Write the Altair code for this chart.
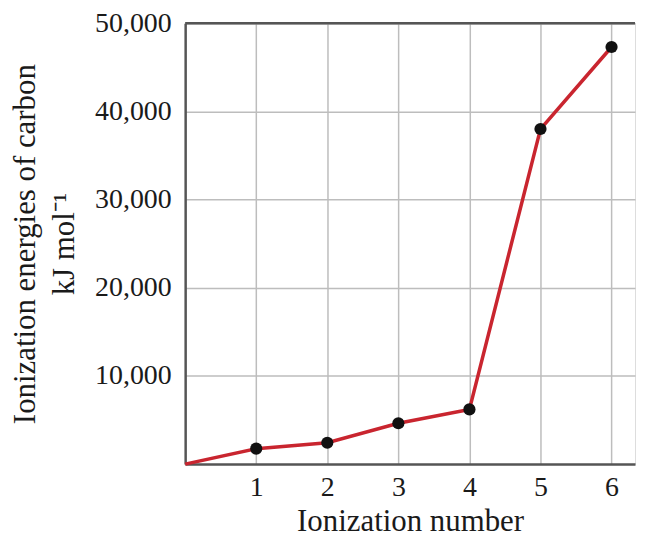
import altair as alt
import pandas as pd

ionization_number = [0, 1, 2, 3, 4, 5, 6]
energy_kj_mol = [0, 1750, 2420, 4630, 6200, 38000, 47300]
y_ticks = [10000, 20000, 30000, 40000, 50000]
x_ticks = [1, 2, 3, 4, 5, 6]

df = pd.DataFrame({"n": ionization_number, "e": energy_kj_mol})
pts = df[df["n"] > 0]

FONT = "Liberation Serif"
X_MAX = 6.33

xs = alt.Scale(domain=[0, X_MAX], nice=False, zero=False)
ys = alt.Scale(domain=[0, 50000], nice=False)

x_axis = alt.Axis(
    values=x_ticks, format="d", title="Ionization number", ticks=False, labelPadding=10,
    labelFontSize=28, titleFontSize=31, labelFont=FONT, titleFont=FONT,
    labelColor="#1a1a1a", titleColor="#1a1a1a", titleFontWeight="normal",
    titlePadding=5, gridColor="#bdbdbd", gridWidth=1.5,
    domainColor="#555555", domainWidth=2.5, labelFlush=False,
)
y_axis = alt.Axis(
    values=y_ticks, format=",.0f", title=["Ionization energies of carbon", "kJ mol⁻¹"],
    ticks=False, labelPadding=14, labelFontSize=28, titleFontSize=31,
    labelFont=FONT, titleFont=FONT, labelColor="#1a1a1a", titleColor="#1a1a1a",
    titleFontWeight="normal", titleLineHeight=39, titlePadding=14,
    gridColor="#bdbdbd", gridWidth=1.5, domainColor="#555555", domainWidth=2.5,
    labelFlush=False,
)

line = alt.Chart(df).mark_line(color="#c9252f", strokeWidth=3.5).encode(
    x=alt.X("n:Q", scale=xs, axis=x_axis),
    y=alt.Y("e:Q", scale=ys, axis=y_axis),
)

dots = alt.Chart(pts).mark_point(filled=True, color="#111111", size=150, opacity=1).encode(
    x=alt.X("n:Q", scale=xs, axis=x_axis),
    y=alt.Y("e:Q", scale=ys, axis=y_axis),
)

top_border = alt.Chart(pd.DataFrame({"n": [0], "b": [X_MAX], "e": [50000]})).mark_rule(
    color="#555555", strokeWidth=2.5
).encode(
    x=alt.X("n:Q", scale=xs, axis=x_axis),
    x2="b:Q",
    y=alt.Y("e:Q", scale=ys, axis=y_axis),
)

chart = (
    alt.layer(line, top_border, dots)
    .properties(width=452, height=443, padding={"left": 2, "top": 0, "right": 0, "bottom": 0})
    .configure_view(strokeWidth=0)
    .configure(background="white")
)

chart.save("out.html", embed_options={"renderer": "svg", "actions": False})
